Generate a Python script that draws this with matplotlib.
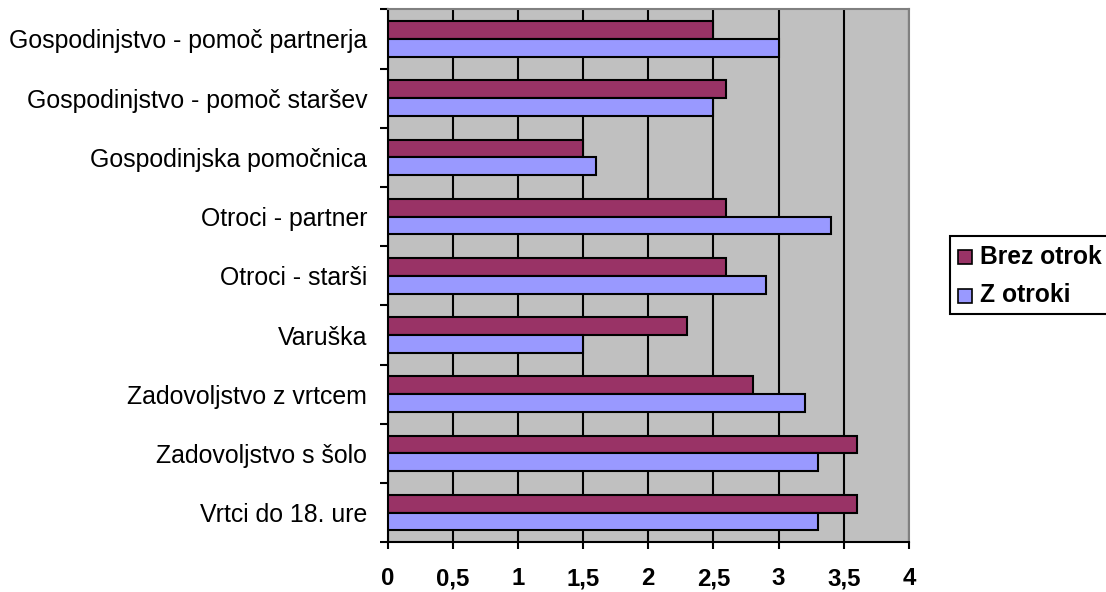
import matplotlib
matplotlib.use("Agg")
import matplotlib.pyplot as plt
import numpy as np
from matplotlib.patches import Rectangle

plt.rcParams["font.family"] = ["Liberation Sans", "DejaVu Sans"]

categories = [
    "Gospodinjstvo - pomoč partnerja",
    "Gospodinjstvo - pomoč staršev",
    "Gospodinjska pomočnica",
    "Otroci - partner",
    "Otroci - starši",
    "Varuška",
    "Zadovoljstvo z vrtcem",
    "Zadovoljstvo s šolo",
    "Vrtci do 18. ure",
]
brez_otrok = [2.5, 2.6, 1.5, 2.6, 2.6, 2.3, 2.8, 3.6, 3.6]
z_otroki = [3.0, 2.5, 1.6, 3.4, 2.9, 1.5, 3.2, 3.3, 3.3]
series_names = ["Brez otrok", "Z otroki"]
x_ticks = [0, 0.5, 1, 1.5, 2, 2.5, 3, 3.5, 4]

PLUM = "#993366"
LILAC = "#9999FF"
PLOT_BG = "#C0C0C0"

W, H = 1106, 592
fig = plt.figure(figsize=(W / 100, H / 100), dpi=100)
ax = fig.add_axes([387.5 / W, (H - 542.3) / H, 521.5 / W, 533 / H])
ax.set_facecolor(PLOT_BG)

n = len(categories)
y = np.arange(n)[::-1]
bh = 0.3
ax.barh(y + bh / 2, brez_otrok, height=bh, color=PLUM, edgecolor="black",
        linewidth=1.5, zorder=3)
ax.barh(y - bh / 2, z_otroki, height=bh, color=LILAC, edgecolor="black",
        linewidth=1.5, zorder=3)

ax.set_xlim(0, 4)
ax.set_ylim(-0.5, n - 0.5)

# x axis: ticks every 0.5 with comma decimals, black vertical grid
ax.set_xticks(x_ticks)
ax.set_xticklabels([f"{v:g}".replace(".", ",") for v in x_ticks],
                   fontsize=17.3, fontweight="bold")
ax.tick_params(axis="x", direction="out", length=5, width=1.5, pad=13)
ax.grid(axis="x", color="black", linewidth=1.5, zorder=1)
ax.set_axisbelow(True)

# y axis: ticks on category boundaries, labels at centers
ax.set_yticks(np.arange(-0.5, n, 1.0))
ax.set_yticklabels([])
ax.tick_params(axis="y", which="major", direction="out", length=5.8, width=1.5)
ax.set_yticks(y, categories, minor=True)
ax.tick_params(axis="y", which="minor", length=0, pad=14.5, labelsize=17.9)

for side in ("left", "bottom"):
    ax.spines[side].set_color("black")
    ax.spines[side].set_linewidth(1.5)
for side in ("top", "right"):
    ax.spines[side].set_color("#808080")
    ax.spines[side].set_linewidth(1.5)

# legend box, runs off the right edge of the figure
def px(x, yy):
    return x / W, (H - yy) / H

lx, ly = px(950, 314)
fig.patches.append(Rectangle((lx, ly), 200 / W, 78 / H, transform=fig.transFigure,
                             facecolor="white", edgecolor="black", linewidth=1.5))
for name, color, cy in zip(series_names, [PLUM, LILAC], [257, 295.5]):
    mx, my = px(958, cy + 7)
    fig.patches.append(Rectangle((mx, my), 14 / W, 14 / H, transform=fig.transFigure,
                                 facecolor=color, edgecolor="black", linewidth=1.2))
    tx, ty = px(980, cy)
    fig.text(tx, ty, name, fontsize=17.7, fontweight="bold", ha="left", va="center")

fig.savefig("out.png", dpi=100, facecolor="white")
